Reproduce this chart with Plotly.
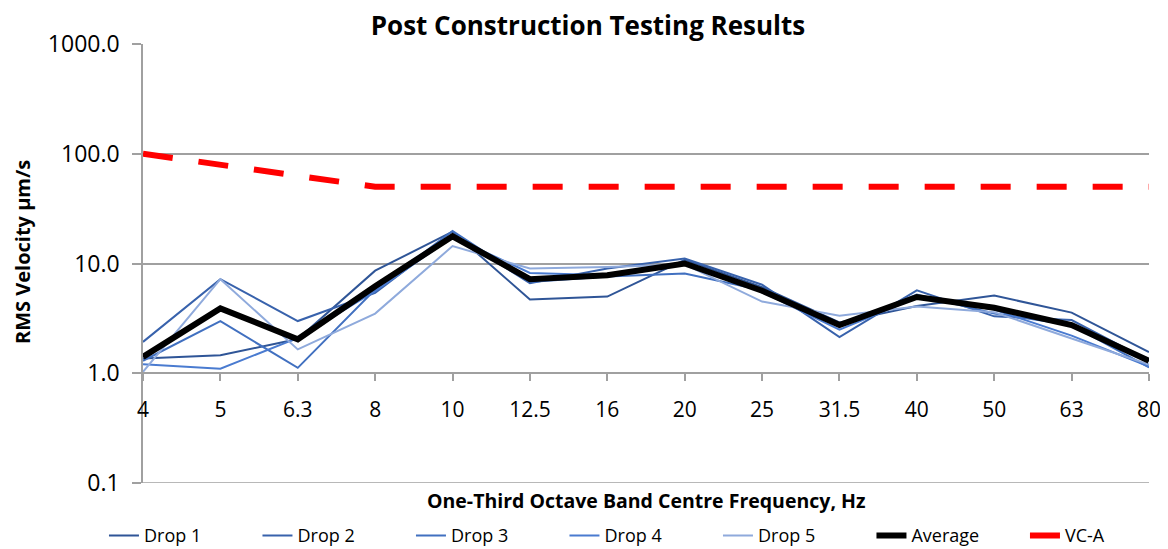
import plotly.graph_objects as go

freqs = ["4", "5", "6.3", "8", "10", "12.5", "16", "20", "25", "31.5", "40", "50", "63", "80"]
drop1 = [1.36, 1.46, 2.05, 8.6, 19.5, 4.7, 5.0, 10.8, 6.1, 2.9, 4.1, 5.1, 3.57, 1.56]
drop2 = [1.93, 7.19, 2.99, 5.4, 18.5, 6.6, 9.0, 11.1, 6.4, 2.14, 5.7, 3.3, 3.05, 1.3]
drop3 = [1.3, 2.98, 1.12, 5.8, 19.8, 6.8, 7.6, 8.1, 5.7, 2.7, 5.2, 3.5, 2.75, 1.13]
drop4 = [1.21, 1.10, 2.1, 5.6, 17.5, 8.2, 7.8, 10.3, 5.5, 2.5, 4.9, 3.8, 2.2, 1.15]
drop5 = [1.03, 7.19, 1.65, 3.5, 14.4, 9.0, 9.3, 9.8, 4.5, 3.35, 4.05, 3.6, 2.07, 1.2]
average = [1.41, 3.9, 2.04, 6.2, 17.7, 7.2, 7.8, 10.0, 5.65, 2.75, 4.95, 3.95, 2.75, 1.3]
vca = [100, 80, 63, 50, 50, 50, 50, 50, 50, 50, 50, 50, 50, 50]

y_ticks = [0.1, 1, 10, 100, 1000]
y_ticktext = ["0.1", "1.0", "10.0", "100.0", "1000.0"]

FONT = "Open Sans"
GRID = "#A0A0A0"
fig = go.Figure()
series = [
    ("Drop 1", drop1, "#2F5597", 2),
    ("Drop 2", drop2, "#3862AC", 2),
    ("Drop 3", drop3, "#4170C0", 2),
    ("Drop 4", drop4, "#4A7BD0", 2),
    ("Drop 5", drop5, "#8FAADC", 2),
]
for name, vals, col, w in series:
    fig.add_trace(go.Scatter(x=freqs, y=vals, name=name, mode="lines",
                             line=dict(color=col, width=w)))
fig.add_trace(go.Scatter(x=freqs, y=average, name="Average", mode="lines",
                         line=dict(color="#000000", width=6)))
fig.add_trace(go.Scatter(x=freqs, y=vca, name="VC-A", mode="lines",
                         line=dict(color="#FF0000", width=6, dash="30px,26px")))

# page body has an 8px default margin, so the figure is sized to fit the window
fig.update_layout(
    width=1160, height=541,
    margin=dict(l=135, r=19, t=36, b=66, autoexpand=False),
    paper_bgcolor="white", plot_bgcolor="white",
    font=dict(family=FONT, color="#000000"),
    title=dict(text="<b>Post Construction Testing Results</b>", x=0.5, xanchor="center",
               y=0.9667, yanchor="middle", font=dict(size=26, family=FONT)),
    showlegend=True,
    legend=dict(orientation="h", x=-0.0388, xanchor="left", y=-0.12, yanchor="middle",
                font=dict(size=18, family=FONT), entrywidth=108.5, entrywidthmode="pixels",
                tracegroupgap=0),
    xaxis=dict(type="category", categoryorder="array", categoryarray=freqs,
               range=[0, 13], anchor="free", position=0.25, automargin=False,
               showline=True, linecolor=GRID, linewidth=1.5,
               ticks="outside", ticklen=7, tickcolor=GRID, tickwidth=1.5,
               ticklabelstandoff=11,
               showgrid=False, tickfont=dict(size=21, family=FONT), zeroline=False),
    yaxis=dict(type="log", range=[-1, 3], tickvals=y_ticks, ticktext=y_ticktext,
               automargin=False,
               showline=True, linecolor=GRID, linewidth=1.5,
               ticks="outside", ticklen=9, tickcolor=GRID, tickwidth=1.5,
               ticklabelstandoff=8,
               showgrid=True, gridcolor=GRID, gridwidth=1.5,
               tickfont=dict(size=23, family=FONT), zeroline=False),
    shapes=[dict(type="line", xref="paper", yref="y", x0=0, x1=1, y0=0.1, y1=0.1,
                 line=dict(color=GRID, width=1.5), layer="below")],
    annotations=[
        dict(text="<b>One-Third Octave Band Centre Frequency, Hz</b>",
             xref="paper", yref="paper", x=0.5, y=-0.039,
             xanchor="center", yanchor="middle", showarrow=False,
             font=dict(size=19.5, family=FONT)),
        dict(text="<b>RMS Velocity µm/s</b>", textangle=-90,
             xref="paper", yref="paper", x=-0.1203, y=0.526,
             xanchor="center", yanchor="middle", showarrow=False,
             font=dict(size=20, family=FONT)),
    ],
)

fig.write_html("out.html")
